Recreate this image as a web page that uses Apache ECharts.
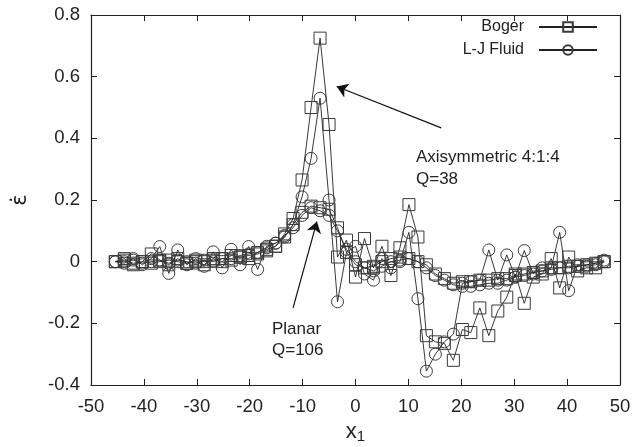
<!DOCTYPE html>
<html>
<head>
<meta charset="utf-8">
<script src="https://cdn.jsdelivr.net/npm/echarts@6/dist/echarts.min.js"></script>
<style>
  html, body { margin: 0; padding: 0; background: #fff; }
  #chart { width: 634px; height: 447px; }
</style>
</head>
<body>
<div id="chart"></div>
<script>
// Position along the channel axis (shared by all four profiles)
const xPos = [
  -45.4, -43.7, -42.0, -40.3, -38.6, -37.0, -35.3, -33.6, -31.9, -30.2,
  -28.6, -26.9, -25.2, -23.5, -21.8, -20.2, -18.5, -16.8, -15.1, -13.4,
  -11.8, -10.1, -8.4, -6.7, -5.0, -3.4, -1.7, 0.0, 1.7, 3.4,
  5.0, 6.7, 8.4, 10.1, 11.8, 13.4, 15.1, 16.8, 18.5, 20.2,
  21.8, 23.5, 25.2, 26.9, 28.6, 30.2, 31.9, 33.6, 35.3, 37.0,
  38.6, 40.3, 42.0, 43.7, 45.4, 47.0
];

// Strain rate, axisymmetric 4:1:4 contraction (Q=38)
const bogerAxi = [
  0.0, 0.01, -0.01, 0.0, 0.025, 0.005, -0.01, 0.01, -0.005, 0.0,
  -0.01, 0.01, 0.0, 0.02, 0.015, 0.01, 0.03, 0.04, 0.05, 0.09,
  0.14, 0.265, 0.50, 0.725, 0.445, 0.015, 0.07, -0.05, 0.075, -0.02,
  0.05, -0.045, 0.045, 0.185, 0.08, -0.24, -0.26, -0.265, -0.32, -0.22,
  -0.23, -0.15, -0.24, -0.16, -0.115, -0.04, -0.135, -0.05, -0.04, 0.01,
  -0.085, 0.015, -0.03, -0.02, -0.02, 0.0
];
const ljAxi = [
  0.0, -0.005, 0.01, -0.01, 0.01, 0.049, -0.038, 0.038, -0.01, 0.01,
  -0.015, 0.032, -0.02, 0.04, -0.01, 0.049, -0.025, 0.05, 0.06, 0.08,
  0.12, 0.21, 0.335, 0.53, 0.20, -0.13, 0.03, 0.05, -0.04, -0.06,
  0.01, -0.02, 0.0, 0.095, -0.12, -0.355, -0.30, -0.26, -0.235, -0.07,
  -0.065, -0.06, 0.038, -0.06, 0.022, -0.05, 0.036, -0.04, -0.02, -0.02,
  0.095, -0.094, -0.01, -0.015, -0.01, 0.0
];

// Strain rate, planar contraction (Q=106)
const bogerPlanar = [
  0.0, 0.005, -0.005, 0.0, -0.005, 0.0, 0.005, 0.0, -0.005, 0.005,
  0.0, 0.005, 0.01, 0.005, 0.015, 0.02, 0.025, 0.035, 0.05, 0.08,
  0.12, 0.16, 0.18, 0.175, 0.17, 0.11, 0.03, -0.01, -0.02, -0.015,
  0.0, 0.01, 0.015, 0.01, 0.0, -0.01, -0.04, -0.055, -0.07, -0.065,
  -0.065, -0.06, -0.06, -0.055, -0.055, -0.045, -0.04, -0.035, -0.03, -0.02,
  -0.02, -0.015, -0.015, -0.01, -0.005, 0.0
];
const ljPlanar = [
  0.0, 0.0, 0.005, -0.005, 0.0, 0.005, -0.005, 0.005, 0.0, -0.005,
  0.005, 0.0, 0.01, 0.01, 0.02, 0.025, 0.03, 0.045, 0.06, 0.085,
  0.11, 0.15, 0.175, 0.165, 0.15, 0.10, 0.04, 0.0, -0.02, -0.03,
  -0.015, 0.0, 0.005, 0.01, 0.0, -0.02, -0.045, -0.06, -0.075, -0.08,
  -0.08, -0.075, -0.07, -0.07, -0.06, -0.05, -0.045, -0.035, -0.03, -0.025,
  -0.02, -0.02, -0.015, -0.01, -0.005, 0.005
];

const xTicks = { min: -50, max: 50, step: 10 };
const yTicks = { min: -0.4, max: 0.8, step: 0.2 };

// Annotation arrows: [tail, head] in data coordinates
const axiArrow = [[16.2, 0.434], [-3.55, 0.568]];
const planarArrow = [[-11.8, -0.15], [-7.3, 0.13]];

const ink = '#222';
const sans = 'Liberation Sans, Arial, sans-serif';
const pair = (ys) => xPos.map((x, i) => [x, ys[i]]);

function profile(name, ys, symbol, extra) {
  return Object.assign({
    name: name,
    type: 'line',
    data: pair(ys),
    symbol: symbol,
    symbolSize: 12,
    showSymbol: true,
    lineStyle: { color: ink, width: 0.9 },
    itemStyle: { color: 'rgba(0,0,0,0)', borderColor: '#3a3a3a', borderWidth: 1 },
    emphasis: { disabled: true },
    z: 3
  }, extra || {});
}

const arrowStyle = { color: '#111', width: 1.2, type: 'solid' };
const tickLabel = { fontFamily: sans, fontSize: 18.5, color: ink };

const chart = echarts.init(document.getElementById('chart'), null, { renderer: 'canvas' });

chart.setOption({
  animation: false,
  backgroundColor: '#fff',
  grid: { left: 91, right: 14, top: 15, bottom: 62, containLabel: false, outerBoundsMode: 'none' },
  legend: {
    data: ['Boger', 'L-J Fluid'],
    orient: 'vertical',
    align: 'right',
    right: 31,
    top: 14,
    itemWidth: 58,
    itemHeight: 12,
    itemGap: 7,
    selectedMode: false,
    textStyle: { fontFamily: sans, fontSize: 16, color: ink, padding: [0, 10, 0, 0] }
  },
  xAxis: [{
    type: 'value', min: xTicks.min, max: xTicks.max, interval: xTicks.step,
    position: 'bottom',
    axisLine: { show: true, onZero: false, lineStyle: { color: ink, width: 1.2 } },
    axisTick: { show: true, inside: true, length: 6, lineStyle: { color: ink } },
    axisLabel: Object.assign({ margin: 12 }, tickLabel),
    splitLine: { show: false },
    name: '{x|x}{s|1}',
    nameLocation: 'middle',
    nameGap: 34,
    nameTextStyle: {
      rich: {
        x: { fontFamily: sans, fontSize: 22, color: ink },
        s: { fontFamily: sans, fontSize: 15, color: ink, verticalAlign: 'bottom', padding: [10, 0, 0, 0] }
      }
    }
  }, {
    type: 'value', min: xTicks.min, max: xTicks.max, interval: xTicks.step,
    position: 'top',
    axisLine: { show: true, onZero: false, lineStyle: { color: ink, width: 1.2 } },
    axisTick: { show: true, inside: true, length: 6, lineStyle: { color: ink } },
    axisLabel: { show: false },
    splitLine: { show: false }
  }],
  yAxis: [{
    type: 'value', min: yTicks.min, max: yTicks.max, interval: yTicks.step,
    position: 'left',
    axisLine: { show: true, onZero: false, lineStyle: { color: ink, width: 1.2 } },
    axisTick: { show: true, inside: true, length: 6, lineStyle: { color: ink } },
    axisLabel: Object.assign({ margin: 11, formatter: (v) => String(Math.round(v * 10) / 10) }, tickLabel),
    splitLine: { show: false }
  }, {
    type: 'value', min: yTicks.min, max: yTicks.max, interval: yTicks.step,
    position: 'right',
    axisLine: { show: true, onZero: false, lineStyle: { color: ink, width: 1.2 } },
    axisTick: { show: true, inside: true, length: 6, lineStyle: { color: ink } },
    axisLabel: { show: false },
    splitLine: { show: false }
  }],
  series: [
    profile('Boger', bogerPlanar, 'rect'),
    profile('L-J Fluid', ljPlanar, 'circle'),
    profile('Boger', bogerAxi, 'rect', {
      markLine: {
        silent: true,
        symbol: ['none', 'arrow'],
        symbolSize: 11,
        label: { show: false },
        lineStyle: arrowStyle,
        emphasis: { disabled: true },
        data: [
          [{ coord: axiArrow[0] }, { coord: axiArrow[1] }],
          [{ coord: planarArrow[0] }, { coord: planarArrow[1] }]
        ]
      }
    }),
    profile('L-J Fluid', ljAxi, 'circle')
  ],
  graphic: [
    // y-axis title: strain rate symbol, turned to read bottom-to-top
    { type: 'group', x: 21, y: 200, rotation: Math.PI / 2, children: [
      { type: 'text', x: 0, y: 0,
        style: { text: '\u03B5\u0307', font: '21px DejaVu Sans, sans-serif', fill: ink, textAlign: 'center', textVerticalAlign: 'middle' } }
    ] },
    { type: 'text', left: 416, top: 149, style: { text: 'Axisymmetric 4:1:4', font: '17px ' + sans, fill: ink } },
    { type: 'text', left: 416, top: 171, style: { text: 'Q=38', font: '17px ' + sans, fill: ink } },
    { type: 'text', left: 272, top: 321, style: { text: 'Planar', font: '17px ' + sans, fill: ink } },
    { type: 'text', left: 272, top: 342, style: { text: 'Q=106', font: '17px ' + sans, fill: ink } }
  ]
});
</script>
</body>
</html>
